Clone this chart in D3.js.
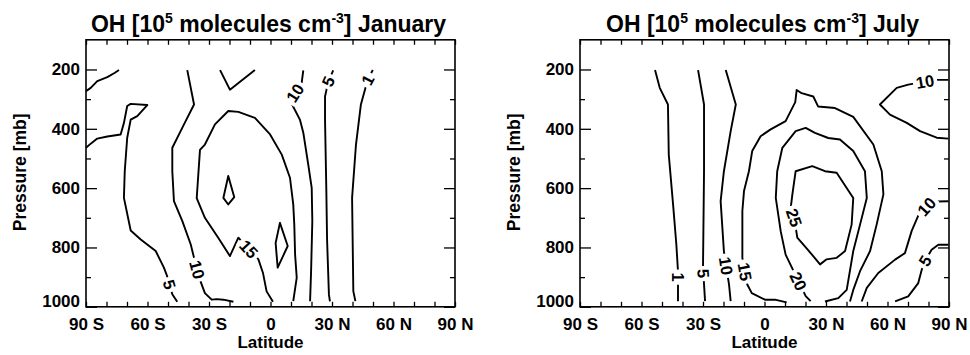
<!DOCTYPE html>
<html><head><meta charset="utf-8">
<script src="https://cdn.jsdelivr.net/npm/d3@7"></script>
<style>
body{margin:0;background:#fff}
svg{display:block}
text{font-family:"Liberation Sans",Arial,Helvetica,sans-serif;font-weight:bold;fill:#000}
</style>
</head><body>
<svg id="chart" width="970" height="355"></svg>
<script>
// ---------- axis data ----------
const latMajorTicks = [-90, -60, -30, 0, 30, 60, 90];
const latMajorLabels = ["90 S", "60 S", "30 S", "0", "30 N", "60 N", "90 N"];
const latMinorTicks = [-80, -70, -50, -40, -20, -10, 10, 20, 40, 50, 70, 80];
const pressureMajorTicks = [200, 400, 600, 800, 1000];
const pressureMajorLabels = ["200", "400", "600", "800", "1000"];
const pressureMinorTicks = [300, 500, 700, 900];
const latDomain = [-90, 90];
const pressureDomain = [100, 1000];

// ---------- January contours: [latitude, pressure mb] ----------
const janLevels = [5, 5, 10, 15, 10, 20, 20, 10, 5, 1];
const jan5a = [[-90,273],[-87.7,262],[-84.5,239],[-79.6,226],[-75.9,211],[-73.9,202]];
const jan5b = [[-90,464],[-87.7,450],[-84.5,433],[-79.6,426],[-73.1,419],[-71.5,380],[-69.9,323],[-68.2,316],[-60.1,320],[-65.0,357],[-68.2,369],[-69.9,430],[-71.1,543],[-71.5,633],[-68.2,743],[-63.3,773],[-56.0,812],[-52.0,868],[-50.6,893],[-47.9,958],[-45.5,983]];
const jan10a = [[-40.6,202],[-37.3,318],[-42.2,385],[-47.9,464],[-47.9,543],[-47.1,644],[-43.0,711],[-38.9,790],[-37.3,835],[-34.4,909],[-32.0,954],[-28.7,976],[-26.2,974],[-23.0,976],[-18.1,983]];
const jan15 = [[1.2,983],[-1.9,948],[-3.7,885],[-5.9,840],[-15.7,767],[-19.8,829],[-25.5,767],[-32.0,700],[-36.0,634],[-34.4,471],[-32.0,453],[-27.1,385],[-20.6,340],[-15.7,343],[-7.6,363],[-0.2,419],[5.5,487],[9.5,565],[11.1,655],[11.6,722],[12.0,824],[12.8,902],[11.1,981]];
const jan10top = [[-24.6,202],[-19.8,268],[-7.6,202]];
const jan20a = [[-20.6,559],[-23.0,633],[-20.6,655],[-17.7,630]];
const jan20b = [[4.6,717],[2.5,785],[3.5,868],[8.4,795]];
const jan10b = [[16.0,203],[15.2,245],[12.0,279],[10.6,319],[14.4,370],[16.0,413],[18.4,520],[20.1,599],[20.4,711],[19.8,880],[19.3,981]];
const jan5c = [[30.6,203],[28.2,240],[26.6,291],[26.6,370],[27.2,592],[27.6,774],[28.5,959],[29.0,982]];
const jan1 = [[49.9,202],[47.4,235],[44.1,318],[41.7,453],[39.8,633],[40.1,790],[40.4,947],[41.4,981]];
const janLines = [jan5a, jan5b, jan10a, jan15, jan10top, jan20a, jan20b, jan10b, jan5c, jan1];
const janClosed = [false, false, false, false, false, true, true, false, false, false];
// label anchor points (lat, pressure) or null
const janLabelAt = [null, [-49.2,925], [-36.0,875], [-10.5,805], null, null, null, [12.0,279], [28.2,240], [47.4,235]];

// ---------- July contours ----------
const julLevels = [1, 5, 10, 15, 20, 25, 10, 10, 5];
const jul1 = [[-53.4,202],[-51.1,262],[-47.1,318],[-46.7,487],[-44.6,655],[-43.0,790],[-42.2,880],[-42.2,981]];
const jul5 = [[-32.4,202],[-29.5,318],[-29.5,543],[-30.0,868],[-29.0,981]];
const jul10a = [[-18.9,202],[-14.0,318],[-16.5,408],[-19.8,543],[-21.4,644],[-19.8,813],[-17.3,925],[-16.5,981]];
const jul15 = [[10.8,985],[5.1,976],[0.2,976],[-6.2,954],[-8.4,925],[-10.8,835],[-10.8,677],[-10.0,610],[-7.6,543],[-6.0,475],[-1.9,425],[3.0,402],[10.3,374],[15.0,310],[15.7,269],[18.1,280],[23.8,291],[26.2,325],[34.4,330],[43.3,360],[53.1,453],[57.2,543],[58.0,621],[54.7,723],[51.5,812],[46.6,880],[43.3,943],[41.7,982]];
const jul20 = [[22.5,981],[20.1,964],[10.3,824],[7.9,745],[5.5,633],[6.2,543],[8.7,464],[15.2,408],[20.1,397],[24.6,414],[31.1,431],[36.8,436],[43.3,475],[49.0,543],[49.9,633],[46.6,723],[43.3,812],[40.1,943],[36.0,971],[29.5,982]];
const jul25 = [[15.2,543],[23.3,526],[29.5,543],[35.2,548],[43.3,633],[42.5,723],[39.3,812],[35.2,835],[30.3,840],[27.1,857],[21.7,812],[16.0,767],[14.5,700],[12.8,666],[13.6,621]];
const jul10b = [[89.7,235],[83.2,235],[70.1,251],[64.5,262],[56.3,318],[61.2,352],[69.4,380],[75.9,408],[84.0,430],[89.7,433]];
const jul10c = [[89.7,644],[84.5,645],[80.0,655],[75.0,693],[71.8,744],[68.5,819],[63.7,841],[55.5,886],[49.9,936],[47.4,982]];
const jul5b = [[89.7,791],[84.8,791],[81.5,808],[78.3,845],[76.7,875],[75.0,920],[70.1,965],[63.7,982]];
const julLines = [jul1, jul5, jul10a, jul15, jul20, jul25, jul10b, jul10c, jul5b];
const julClosed = [false, false, false, false, false, true, false, false, false];
const julLabelAt = [[-42.2,900], [-29.8,888], [-18.8,862], [-10.0,882], [14.6,920], [14.3,700], [78.3,241], [79.0,662], [78.3,845]];

const titles = ["January", "July"];

// ---------- drawing ----------
const svg = d3.select("#chart");
svg.append("rect").attr("width", 970).attr("height", 355).attr("fill", "#fff");

const panels = [
  {x0: 86, x1: 455, lines: janLines, closed: janClosed, levels: janLevels, labels: janLabelAt, month: titles[0]},
  {x0: 580, x1: 949, lines: julLines, closed: julClosed, levels: julLevels, labels: julLabelAt, month: titles[1]}
];
const yTop = 39.8, yBot = 306.8;

function styleAxis(g, size) {
  g.attr("font-family", null).attr("font-size", null);
  g.select(".domain").remove();
  g.selectAll(".tick line").attr("stroke", "#000").attr("stroke-width", 1.3);
  g.selectAll("text").style("font-size", size + "px").attr("fill", "#000");
}

function nearestOnLine(P, L, closed) {
  let best = null, bd = Infinity;
  const n = closed ? P.length : P.length - 1;
  for (let i = 0; i < n; i++) {
    const a = P[i], b = P[(i + 1) % P.length];
    const dx = b[0] - a[0], dy = b[1] - a[1];
    const len2 = dx * dx + dy * dy || 1;
    let t = ((L[0] - a[0]) * dx + (L[1] - a[1]) * dy) / len2;
    t = Math.max(0, Math.min(1, t));
    const px = a[0] + t * dx, py = a[1] + t * dy;
    const d = (px - L[0]) ** 2 + (py - L[1]) ** 2;
    if (d < bd) { bd = d; best = {dx, dy, px, py}; }
  }
  let ang = Math.atan2(best.dy, best.dx) * 180 / Math.PI;
  if (ang > 90) ang -= 180;
  if (ang <= -90) ang += 180;
  return {ang, px: best.px, py: best.py};
}

panels.forEach(p => {
  const x = d3.scaleLinear().domain(latDomain).range([p.x0, p.x1]);
  const y = d3.scaleLinear().domain(pressureDomain).range([yTop, yBot]);
  const g = svg.append("g");

  // contours
  const lineGen = d3.line().x(d => x(d[0])).y(d => y(d[1]));
  const lineGenClosed = d3.line().x(d => x(d[0])).y(d => y(d[1])).curve(d3.curveLinearClosed);
  p.lines.forEach((pts, i) => {
    g.append("path")
      .attr("d", (p.closed[i] ? lineGenClosed : lineGen)(pts))
      .attr("fill", "none").attr("stroke", "#000")
      .attr("stroke-width", 1.9).attr("stroke-linejoin", "round");
  });
  // contour labels
  p.lines.forEach((pts, i) => {
    const la = p.labels[i];
    if (!la) return;
    const P = pts.map(d => [x(d[0]), y(d[1])]);
    const r = nearestOnLine(P, [x(la[0]), y(la[1])], p.closed[i]);
    const lg = g.append("g").attr("transform", `translate(${r.px},${r.py}) rotate(${r.ang})`);
    const rect = lg.append("rect").attr("fill", "#fff");
    const t = lg.append("text").attr("text-anchor", "middle").attr("dy", "0.36em")
      .style("font-size", "16.5px").text(p.levels[i]);
    const w = t.node().getComputedTextLength();
    rect.attr("x", -w / 2 - 3).attr("y", -6.5).attr("width", w + 6).attr("height", 13);
  });

  // axes
  const gl = g.append("g").attr("transform", `translate(${p.x0},0)`)
    .call(d3.axisLeft(y).tickValues(pressureMajorTicks).tickSize(-11).tickPadding(6)
      .tickFormat((d, i) => pressureMajorLabels[i]));
  styleAxis(gl, 17);
  gl.selectAll("text").attr("y", d => d === 1000 ? -6 : 0);
  const glm = g.append("g").attr("transform", `translate(${p.x0},0)`)
    .call(d3.axisLeft(y).tickValues(pressureMinorTicks).tickSize(-5).tickFormat(""));
  styleAxis(glm, 17);
  const gr = g.append("g").attr("transform", `translate(${p.x1},0)`)
    .call(d3.axisRight(y).tickValues(pressureMajorTicks).tickSize(-11).tickFormat(""));
  styleAxis(gr, 17);
  const grm = g.append("g").attr("transform", `translate(${p.x1},0)`)
    .call(d3.axisRight(y).tickValues(pressureMinorTicks).tickSize(-5).tickFormat(""));
  styleAxis(grm, 17);

  const gb = g.append("g").attr("transform", `translate(0,${yBot})`)
    .call(d3.axisBottom(x).tickValues(latMajorTicks).tickSize(-5).tickPadding(11)
      .tickFormat((d, i) => latMajorLabels[i]));
  styleAxis(gb, 17);
  const gbm = g.append("g").attr("transform", `translate(0,${yBot})`)
    .call(d3.axisBottom(x).tickValues(latMinorTicks).tickSize(-5).tickFormat(""));
  styleAxis(gbm, 17);
  const gt = g.append("g").attr("transform", `translate(0,${yTop})`)
    .call(d3.axisTop(x).tickValues(latMajorTicks.concat(latMinorTicks)).tickSize(-5).tickFormat(""));
  styleAxis(gt, 17);

  // frame
  g.append("rect").attr("x", p.x0).attr("y", yTop).attr("width", p.x1 - p.x0).attr("height", yBot - yTop)
    .attr("fill", "none").attr("stroke", "#000").attr("stroke-width", 1.6);

  // axis titles
  const cx = (p.x0 + p.x1) / 2;
  g.append("text").attr("x", cx).attr("y", 348).attr("text-anchor", "middle")
    .style("font-size", "17px").text("Latitude");
  g.append("text").attr("transform", `translate(${p.x0 - 60},${(yTop + yBot) / 2 - 1}) rotate(-90)`)
    .attr("text-anchor", "middle").style("font-size", "17.5px").text("Pressure [mb]");

  // title
  const tt = g.append("text").attr("x", cx - 2).attr("y", 31.7).attr("text-anchor", "middle")
    .style("font-size", "23px");
  tt.append("tspan").text("OH [10");
  tt.append("tspan").attr("dy", -8.5).style("font-size", "14px").text("5");
  tt.append("tspan").attr("dy", 8.5).text(" molecules cm");
  tt.append("tspan").attr("dy", -8.5).style("font-size", "14px").text("-3");
  tt.append("tspan").attr("dy", 8.5).text("] " + p.month);
});
</script>
</body></html>
